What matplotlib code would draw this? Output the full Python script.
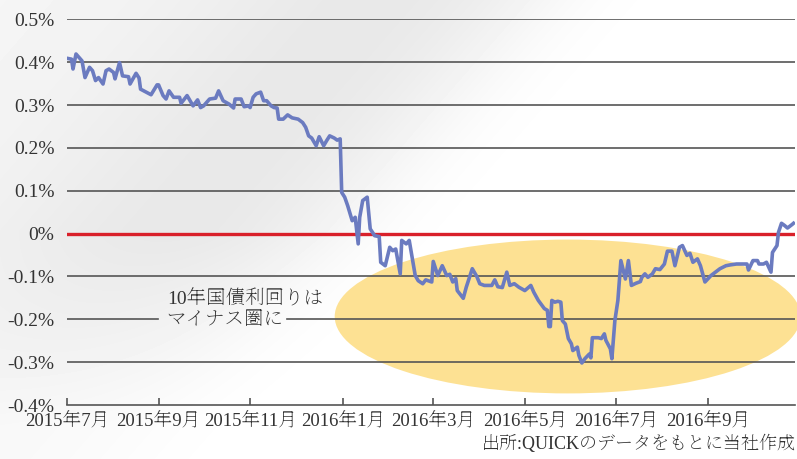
import numpy as np
import pandas as pd
import matplotlib
matplotlib.use("Agg")
import matplotlib.pyplot as plt
from matplotlib.patches import Ellipse

plt.rcParams['font.family'] = ['Liberation Serif', 'Noto Serif JP', 'Noto Serif CJK JP',
                               'Shippori Mincho', 'Zen Old Mincho', 'Sawarabi Mincho',
                               'Noto Sans CJK JP']

# 10-year JGB yield (%); x = days after 2015-07-31
day_offsets = [
    0, 3, 4, 6, 10, 12, 15, 17, 19, 21, 24, 26, 28, 31, 32, 35, 37, 41, 42, 46,
    48, 49, 56, 60, 61, 64, 66, 68, 71, 75, 76, 80, 82, 84, 87, 89, 91, 95, 99, 101,
    104, 108, 111, 112, 116, 118, 121, 122, 124, 126, 129, 131, 133, 136, 138, 140, 141, 144, 147, 150,
    154, 157, 159, 161, 163, 166, 168, 171, 173, 175, 178, 180, 182, 183, 185, 187, 190, 192, 194, 195,
    197, 200, 202, 205, 208, 209, 212, 215, 217, 219, 222, 223, 226, 228, 232, 234, 237, 239, 243, 244,
    247, 250, 253, 255, 257, 259, 260, 264, 266, 270, 273, 275, 278, 283, 285, 287, 290, 293, 295, 298,
    301, 305, 309, 311, 314, 317, 318, 320, 321, 322, 323, 325, 327, 329, 330, 332, 334, 336, 337, 340,
    341, 343, 345, 348, 349, 350, 354, 356, 358, 359, 362, 363, 365, 367, 369, 372, 374, 376, 379, 382,
    383, 385, 387, 390, 392, 395, 398, 400, 403, 405, 408, 410, 413, 415, 417, 420, 422, 425, 429, 432,
    435, 439, 442, 446, 453, 454, 457, 460, 461, 464, 466, 469, 470, 473, 474, 476, 478, 480, 483, 484,
]
yields = [
    0.409, 0.407, 0.384, 0.419, 0.403, 0.364, 0.388, 0.380, 0.357, 0.364, 0.349, 0.380, 0.384, 0.376, 0.361, 0.399, 0.368, 0.366, 0.349, 0.374,
    0.363, 0.337, 0.324, 0.347, 0.347, 0.322, 0.314, 0.333, 0.318, 0.318, 0.304, 0.322, 0.310, 0.298, 0.312, 0.294, 0.298, 0.314, 0.316, 0.333,
    0.310, 0.302, 0.293, 0.314, 0.314, 0.296, 0.298, 0.294, 0.318, 0.326, 0.330, 0.310, 0.310, 0.298, 0.294, 0.293, 0.267, 0.267, 0.277, 0.270,
    0.267, 0.259, 0.248, 0.228, 0.223, 0.205, 0.226, 0.205, 0.217, 0.228, 0.223, 0.218, 0.221, 0.096, 0.085, 0.065, 0.030, 0.038, -0.024, 0.038,
    0.077, 0.085, 0.011, -0.005, -0.007, -0.067, -0.075, -0.032, -0.040, -0.036, -0.094, -0.016, -0.024, -0.016, -0.098, -0.110, -0.117, -0.108, -0.113, -0.065,
    -0.098, -0.075, -0.098, -0.095, -0.113, -0.105, -0.133, -0.151, -0.125, -0.082, -0.100, -0.117, -0.121, -0.121, -0.108, -0.124, -0.126, -0.090, -0.121, -0.117,
    -0.125, -0.133, -0.121, -0.137, -0.156, -0.170, -0.175, -0.179, -0.217, -0.217, -0.156, -0.160, -0.158, -0.160, -0.203, -0.211, -0.245, -0.257, -0.273, -0.265,
    -0.284, -0.302, -0.292, -0.281, -0.290, -0.243, -0.243, -0.245, -0.234, -0.249, -0.269, -0.292, -0.203, -0.156, -0.063, -0.106, -0.063, -0.121, -0.116, -0.112,
    -0.102, -0.094, -0.102, -0.094, -0.082, -0.084, -0.071, -0.041, -0.041, -0.075, -0.032, -0.028, -0.051, -0.046, -0.067, -0.059, -0.075, -0.113, -0.098, -0.090,
    -0.082, -0.075, -0.073, -0.071, -0.071, -0.085, -0.063, -0.063, -0.071, -0.071, -0.067, -0.090, -0.044, -0.028, 0.003, 0.024, 0.019, 0.013, 0.021, 0.024,
]
tick_dates = ["2015-07-31", "2015-09-30", "2015-11-30", "2016-01-31",
              "2016-03-31", "2016-05-31", "2016-07-31", "2016-09-30"]
tick_labels = ["2015年7月", "2015年9月", "2015年11月", "2016年1月",
               "2016年3月", "2016年5月", "2016年7月", "2016年9月"]
y_ticks = [0.5, 0.4, 0.3, 0.2, 0.1, 0.0, -0.1, -0.2, -0.3, -0.4]

start = pd.Timestamp("2015-07-31")
dates = start + pd.to_timedelta(day_offsets, unit="D")

W, H = 797, 459
fig = plt.figure(figsize=(W / 100, H / 100), dpi=100)

# soft gray shading in the background
bg = fig.add_axes([0, 0, 1, 1], zorder=0)
xx, yy = np.meshgrid(np.arange(W), np.arange(H))
nx, ny = -0.753, -0.658
u = (xx - 600) * nx + (yy + 20) * ny
dark = 0.085 / (1 + np.exp(-(u - 15) / 30)) * np.exp(-((u - 140) / 170) ** 2)
dark = dark * np.clip(1 - (yy - 230) / 260, 0.25, 1) + 0.035 * np.exp(-((u - 420) / 200) ** 2)
bg.imshow(1 - dark, cmap="gray", vmin=0, vmax=1, aspect="auto",
          extent=[0, W, H, 0], interpolation="bilinear")
bg.axis("off")

ax = fig.add_axes([67 / W, 1 - 405 / H, (795 - 67) / W, (405 - 19.3) / H], zorder=1)
ax.patch.set_alpha(0)

ax.set_xlim(start, start + pd.Timedelta(days=485))
ax.set_ylim(-0.4, 0.5)

# highlight ellipse
days_per_px = 1 / 1.501
cx = start + pd.Timedelta(days=(568 - 67.3) * days_per_px)
ell = Ellipse((matplotlib.dates.date2num(cx), (233 - 316) / 429),
              width=466 * days_per_px, height=154 / 429,
              facecolor="#fde193", edgecolor="none", zorder=1, clip_on=False)
ax.add_patch(ell)

for v in y_ticks:
    if v in (0.0, -0.4):
        continue
    if v == -0.2:
        # gap left for the annotation
        ax.axhline(v, xmax=0.125, color="#555555", lw=1.2, zorder=2)
        ax.axhline(v, xmin=0.302, color="#555555", lw=1.2, zorder=2)
    else:
        ax.axhline(v, color="#555555", lw=1.2, zorder=2)
ax.axhline(0, color="#d9202a", lw=2.4, zorder=3)

ax.plot(dates, yields, color="#6b7bc0", lw=2.6, zorder=4, solid_joinstyle="round")

for s in ["left", "right", "top"]:
    ax.spines[s].set_visible(False)
ax.spines["bottom"].set_color("#555555")
ax.spines["bottom"].set_linewidth(1.2)

ax.set_yticks(y_ticks)
ax.set_yticklabels([f"{v:.1f}%" if v != 0 else "0%" for v in y_ticks])
ax.tick_params(axis="y", length=0, pad=9, labelsize=14, labelcolor="#333333")
ax.set_xticks(pd.to_datetime(tick_dates))
ax.set_xticklabels(tick_labels)
ax.tick_params(axis="x", direction="in", length=5, width=1.2, color="#555555",
               pad=6, labelsize=13.5, labelcolor="#333333")

ax.text(0.137, -0.222, "10年国債利回りは\nマイナス圏に", transform=ax.get_yaxis_transform(),
        fontsize=14, color="#333333", va="bottom", ha="left", linespacing=1.25, zorder=5)

fig.text(0.998, 0.012, "出所:QUICKのデータをもとに当社作成", ha="right", va="bottom",
         fontsize=13, color="#333333")

fig.savefig("out.png", dpi=100)
